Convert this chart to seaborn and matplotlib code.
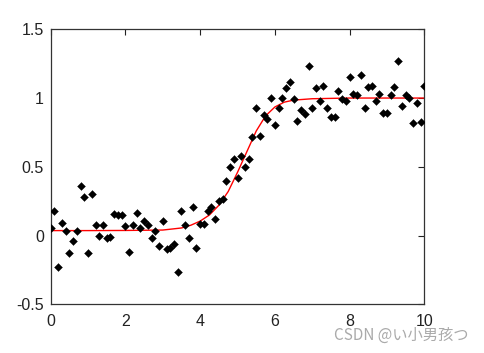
import matplotlib
matplotlib.use("Agg")
import matplotlib.pyplot as plt
import seaborn as sns
import numpy as np
import pandas as pd

# scatter data (x every 0.1 from 0 to 10)
x_data = [round(i * 0.1, 1) for i in range(101)]
y_data = [
    0.056, 0.18, -0.23, 0.09, 0.036, -0.13, -0.04, 0.036, 0.36, 0.28,
    -0.13, 0.30, 0.075, 0.0, 0.075, -0.02, -0.01, 0.155, 0.146, 0.146,
    0.066, -0.12, 0.075, 0.167, 0.056, 0.107, 0.075, -0.02, 0.036, -0.073,
    0.107, -0.10, -0.092, -0.063, -0.267, 0.177, 0.075, -0.02, 0.206, -0.092,
    0.087, 0.087, 0.177, 0.206, 0.117, 0.248, 0.267, 0.40, 0.50, 0.56,
    0.42, 0.575, 0.50, 0.56, 0.72, 0.925, 0.726, 0.88, 0.85, 1.0,
    0.806, 0.93, 1.0, 1.07, 1.12, 0.99, 0.83, 0.915, 0.883, 1.23,
    0.93, 1.07, 0.98, 1.09, 0.925, 0.864, 0.864, 1.053, 0.99, 0.98,
    1.15, 1.03, 1.02, 1.17, 0.925, 1.08, 1.09, 0.98, 1.03, 0.893,
    0.893, 1.02, 1.08, 1.267, 0.944, 1.02, 1.0, 0.818, 0.964, 0.823,
    1.09,
]

# fitted curve
x_fit = [0, 1, 2, 3, 3.5, 3.75, 4.0, 4.25, 4.5, 4.75, 5.0, 5.25, 5.5,
         5.75, 6.0, 6.25, 6.5, 7.0, 8.0, 10.0]
y_fit = [0.036, 0.036, 0.037, 0.04, 0.055, 0.075, 0.105, 0.15, 0.22, 0.32,
         0.46, 0.61, 0.76, 0.87, 0.935, 0.97, 0.985, 0.995, 1.0, 1.0]

x_ticks = [0, 2, 4, 6, 8, 10]
y_ticks = [-0.5, 0, 0.5, 1, 1.5]
y_tick_labels = ["-0.5", "0", "0.5", "1", "1.5"]

sns.set_style("white")
plt.rcParams['font.family'] = ['Liberation Sans', 'DejaVu Sans']

fig = plt.figure(figsize=(4.84, 3.53), dpi=100)
ax = fig.add_axes([0.1048, 0.138, 0.7719, 0.779])

df = pd.DataFrame({"x": x_data, "y": y_data})
fit = pd.DataFrame({"x": x_fit, "y": y_fit})

sns.lineplot(data=fit, x="x", y="y", ax=ax, color="red", linewidth=1.0,
             estimator=None, sort=False, zorder=2)
sns.scatterplot(data=df, x="x", y="y", ax=ax, marker="D", s=16,
                color="black", edgecolor="black", linewidth=0.3, zorder=3)

ax.set_xlim(0, 10)
ax.set_ylim(-0.5, 1.5)
ax.set_xticks(x_ticks)
ax.set_xticklabels([str(t) for t in x_ticks])
ax.set_yticks(y_ticks)
ax.set_yticklabels(y_tick_labels)
ax.set_xlabel("")
ax.set_ylabel("")
ax.tick_params(direction="in", top=True, right=True, length=4, width=0.8,
               labelsize=11.5, colors="#222222", pad=5)
ax.tick_params(axis="x", pad=7)
for s in ax.spines.values():
    s.set_visible(True)
    s.set_color("#333333")
    s.set_linewidth(0.9)

fig.text(0.968, 0.025, "CSDN @い小男孩つ", ha="right", va="bottom",
         fontsize=11, color="#aaaaaa",
         family=['Noto Sans CJK JP', 'DejaVu Sans'])

fig.savefig("out.png", dpi=100)
